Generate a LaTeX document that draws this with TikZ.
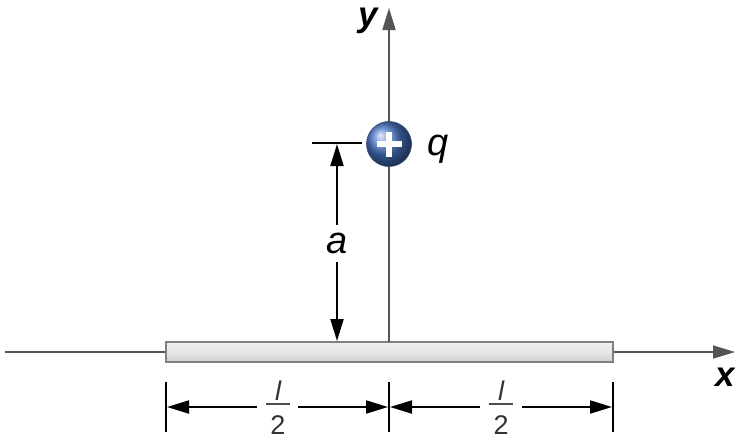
\documentclass[tikz,border=0pt]{standalone}
\usepackage{fontspec}
\setmainfont{Liberation Sans}
\usetikzlibrary{arrows.meta}
\definecolor{axisgray}{RGB}{85,85,85}
\definecolor{chargeblue}{RGB}{75,120,200}
\tikzset{
  tip/.style={-{Triangle[length=22pt,width=13pt]}},
  axisline/.style={draw=axisgray, line width=1.8pt, tip},
  dimline/.style={draw=black, line width=2pt},
  dimarrow/.style={dimline, tip},
  tickline/.style={draw=black, line width=2pt},
  lbl/.style={font=\fontsize{38}{42}\selectfont\itshape, inner sep=0pt},
  axlbl/.style={font=\fontsize{35}{40}\selectfont\bfseries\itshape, inner sep=0pt},
  fraclbl/.style={font=\fontsize{27}{30}\selectfont, inner sep=0pt, text=black!80},
  fracbar/.style={line width=1.5pt, draw=black!70},
}
\begin{document}
\begin{tikzpicture}[x=1pt,y=-1pt]
\useasboundingbox (0,0) rectangle (735,440);
% axes
\coordinate (xs) at (5,352);
\coordinate (xe) at (735,352);
\draw[axisline] (xs) -- (xe);
\node[axlbl, anchor=east] (xlab) at (735,377) {x};
% rod
\node[draw=gray, line width=1.4pt, minimum width=447pt, minimum height=20pt, inner sep=0pt,
      top color=white!88!gray, bottom color=white!62!gray, middle color=white!80!gray] (rod) at (389.5,352) {};
\coordinate (ys) at (389,342);
\coordinate (ye) at (389,8);
\draw[axisline] (ys) -- (ye);
\node[axlbl] (ylab) at (368,21) {y};
% charge
\node[circle, minimum size=45pt, inner sep=0pt, ball color=chargeblue, draw=chargeblue!60!black, line width=0.6pt] (q) at (389,144) {};
\draw[white, line width=6.5pt] ([xshift=-12.5pt]q.center) -- ([xshift=12.5pt]q.center);
\draw[white, line width=6.5pt] ([yshift=-12.5pt]q.center) -- ([yshift=12.5pt]q.center);
\node[lbl] (qlab) at (438,149) {q};
% height a
\coordinate (ht1) at (312,143);
\coordinate (ht2) at (362,143);
\draw[tickline] (ht1) -- (ht2);
\node[lbl] (alab) at (337,243) {a};
\coordinate (atop) at (337,144);
\coordinate (abot) at (337,341);
\draw[dimarrow] (337,225) -- (atop);
\draw[dimarrow] (337,262) -- (abot);
% bottom ticks
\coordinate (t1a) at (166,382); \coordinate (t1b) at (166,432);
\coordinate (t2a) at (389,382); \coordinate (t2b) at (389,432);
\coordinate (t3a) at (613,382); \coordinate (t3b) at (613,432);
\draw[tickline] (t1a) -- (t1b);
\draw[tickline] (t2a) -- (t2b);
\draw[tickline] (t3a) -- (t3b);
% fractions
\node[fraclbl] (l1) at (278,391) {\itshape l};
\node[fraclbl] (d1) at (278,425) {2};
\draw[fracbar] (266,404) -- (290,404);
\node[fraclbl] (l2) at (501,391) {\itshape l};
\node[fraclbl] (d2) at (501,425) {2};
\draw[fracbar] (489,404) -- (513,404);
% dimension arrows
\coordinate (g1l) at (257,407); \coordinate (g1r) at (298,407);
\coordinate (g2l) at (480,407); \coordinate (g2r) at (522,407);
\draw[dimarrow] (g1l) -- (167,407);
\draw[dimarrow] (g1r) -- (388,407);
\draw[dimarrow] (g2l) -- (390,407);
\draw[dimarrow] (g2r) -- (612,407);
\end{tikzpicture}
\end{document}
